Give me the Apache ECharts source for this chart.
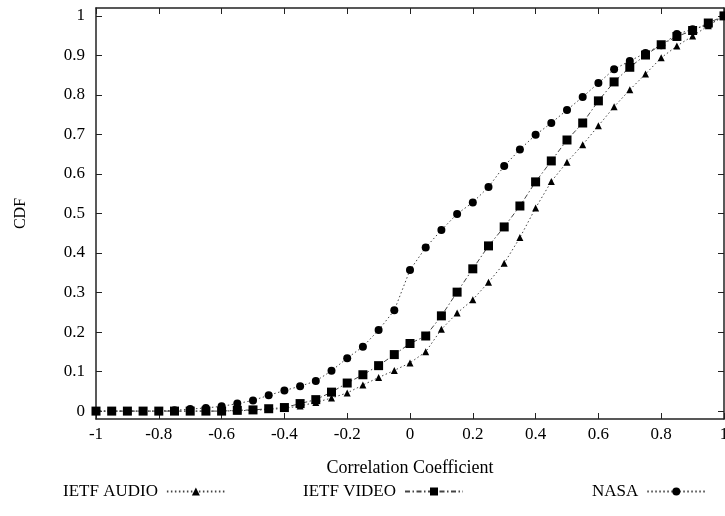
<!DOCTYPE html>
<html>
<head>
<meta charset="utf-8">
<script src="https://cdn.jsdelivr.net/npm/echarts@6/dist/echarts.min.js"></script>
<style>
  html, body { margin: 0; padding: 0; background: #fff; }
  #chart { width: 725px; height: 516px; }
</style>
</head>
<body>
<div id="chart"></div>
<script>
// x positions of the points (correlation coefficient)
const xs = [-1, -0.95, -0.9, -0.85, -0.8, -0.75, -0.7, -0.65, -0.6, -0.55,
  -0.5, -0.45, -0.4, -0.35, -0.3, -0.25, -0.2, -0.15, -0.1, -0.05,
  0, 0.05, 0.1, 0.15, 0.2, 0.25, 0.3, 0.35, 0.4, 0.45,
  0.5, 0.55, 0.6, 0.65, 0.7, 0.75, 0.8, 0.85, 0.9, 0.95, 1];

const ietfAudio = [0, 0, 0, 0, 0, 0, 0, 0, 0, 0.001,
  0.002, 0.004, 0.007, 0.013, 0.022, 0.033, 0.046, 0.066, 0.085, 0.103,
  0.122, 0.15, 0.207, 0.248, 0.282, 0.326, 0.374, 0.439, 0.514, 0.581,
  0.63, 0.674, 0.722, 0.77, 0.813, 0.853, 0.894, 0.924, 0.949, 0.975, 1];

const ietfVideo = [0, 0, 0, 0, 0, 0, 0, 0, 0, 0.002,
  0.003, 0.006, 0.009, 0.019, 0.029, 0.048, 0.071, 0.092, 0.115, 0.143,
  0.171, 0.19, 0.241, 0.301, 0.36, 0.418, 0.466, 0.519, 0.58, 0.633,
  0.686, 0.729, 0.785, 0.833, 0.87, 0.901, 0.927, 0.948, 0.963, 0.982, 1];

const nasa = [0, 0, 0, 0, 0, 0.002, 0.005, 0.008, 0.012, 0.019,
  0.027, 0.04, 0.052, 0.063, 0.076, 0.102, 0.134, 0.163, 0.205, 0.255,
  0.357, 0.414, 0.458, 0.499, 0.528, 0.567, 0.62, 0.662, 0.699, 0.729,
  0.762, 0.795, 0.83, 0.865, 0.886, 0.906, 0.926, 0.954, 0.966, 0.977, 1];

const yTicks = [0, 0.1, 0.2, 0.3, 0.4, 0.5, 0.6, 0.7, 0.8, 0.9, 1];

const font = 'Liberation Serif, Times New Roman, serif';
const ink = '#222';

function pairs(ys) {
  return xs.map((x, i) => [x, ys[i]]);
}

function mkSeries(name, ys, symbol, size, dash) {
  return {
    name: name,
    type: 'line',
    data: pairs(ys),
    symbol: symbol,
    symbolSize: size,
    showSymbol: true,
    itemStyle: { color: '#000' },
    lineStyle: { color: '#444', width: 1, type: dash },
    emphasis: { disabled: true },
    animation: false
  };
}

const chart = echarts.init(document.getElementById('chart'));

const axisLine = { show: true, onZero: false, lineStyle: { color: ink, width: 1.5 } };
const tickIn = { show: true, inside: true, length: 6, lineStyle: { color: ink, width: 1 } };

function legendAt(name, left) {
  return {
    data: [name],
    left: left,
    top: 478,
    align: 'right',
    itemWidth: 58,
    itemHeight: 10,
    itemGap: 0,
    textStyle: { fontFamily: font, fontSize: 17, color: '#000', padding: [0, 4, 0, 0] },
    selectedMode: false
  };
}

chart.setOption({
  backgroundColor: '#fff',
  animation: false,
  grid: { left: 96, right: 1, top: 8, bottom: 97, outerBoundsMode: 'none', containLabel: false },
  legend: [
    legendAt('IETF AUDIO', 58),
    legendAt('IETF VIDEO', 298),
    legendAt('NASA', 587)
  ],
  xAxis: [{
    type: 'value',
    min: -1, max: 1, interval: 0.2,
    position: 'bottom',
    name: 'Correlation Coefficient',
    nameLocation: 'middle',
    nameGap: 40,
    nameTextStyle: { fontFamily: font, fontSize: 18, color: '#000' },
    axisLine: axisLine,
    axisTick: tickIn,
    splitLine: { show: false },
    axisLabel: {
      fontFamily: font, fontSize: 17, color: '#000', margin: 7,
      formatter: v => String(Math.round(v * 10) / 10)
    }
  }, {
    type: 'value',
    min: -1, max: 1, interval: 0.2,
    position: 'top',
    axisLine: axisLine,
    axisTick: tickIn,
    axisLabel: { show: false },
    splitLine: { show: false }
  }],
  yAxis: [{
    type: 'value',
    min: -0.02, max: 1.02,
    position: 'left',
    name: 'CDF',
    nameLocation: 'middle',
    nameGap: 67,
    nameRotate: 90,
    nameTextStyle: { fontFamily: font, fontSize: 16, color: '#000' },
    axisLine: axisLine,
    axisTick: Object.assign({ customValues: yTicks }, tickIn),
    splitLine: { show: false },
    axisLabel: {
      customValues: yTicks,
      fontFamily: font, fontSize: 17, color: '#000', margin: 11,
      formatter: v => String(Math.round(v * 10) / 10)
    }
  }, {
    type: 'value',
    min: -0.02, max: 1.02,
    position: 'right',
    axisLine: axisLine,
    axisTick: Object.assign({ customValues: yTicks }, tickIn),
    axisLabel: { show: false },
    splitLine: { show: false }
  }],
  series: [
    mkSeries('IETF AUDIO', ietfAudio, 'triangle', 7, [1.5, 2.5]),
    mkSeries('IETF VIDEO', ietfVideo, 'rect', 9, [5, 2.5, 1.5, 2.5]),
    mkSeries('NASA', nasa, 'circle', 8, [1.5, 2.5])
  ]
});
</script>
</body>
</html>
